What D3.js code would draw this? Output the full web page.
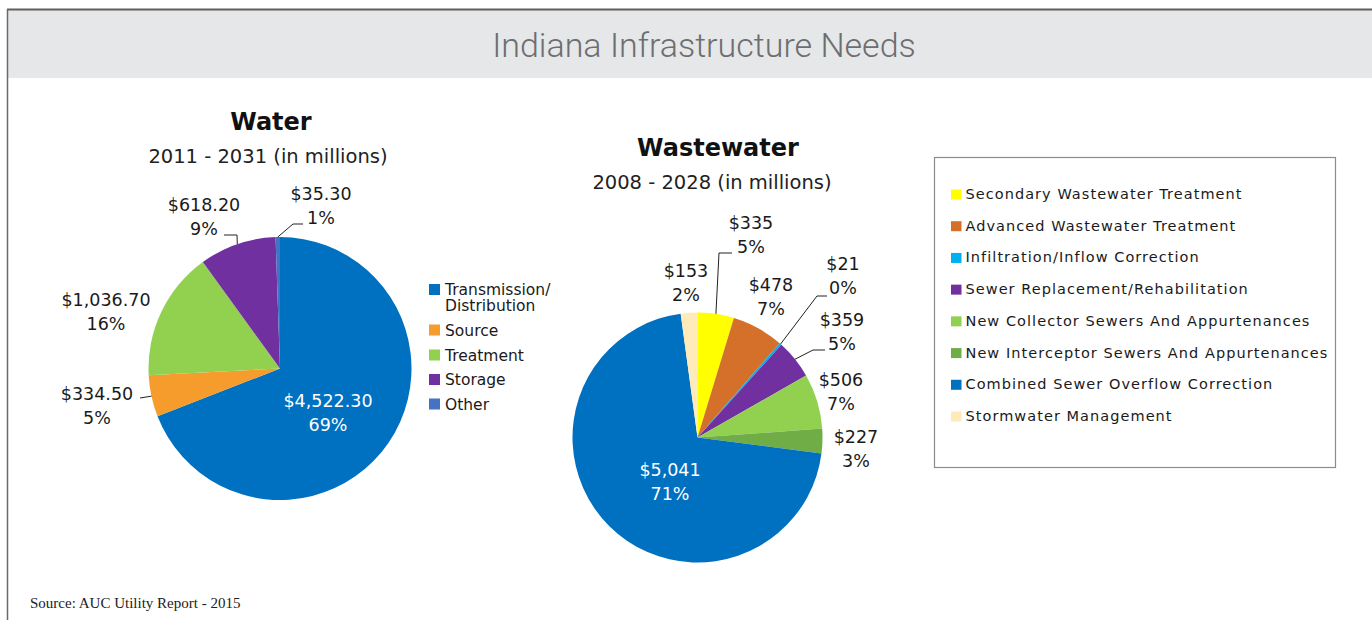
<!DOCTYPE html>
<html>
<head>
<meta charset="utf-8">
<script src="https://d3js.org/d3.v7.min.js"></script>
<style>
  html, body { margin: 0; padding: 0; background: #ffffff; }
  svg { display: block; }
</style>
</head>
<body>
<svg id="chart" width="1372" height="620"></svg>
<script>
// ---- Water needs, 2011 - 2031 (in millions) ----
const waterCategories = ["Transmission/Distribution", "Source", "Treatment", "Storage", "Other"];
const waterLegendLines = [["Transmission/", "Distribution"], ["Source"], ["Treatment"], ["Storage"], ["Other"]];
const waterValues = [4522.30, 334.50, 1036.70, 618.20, 35.30];
const waterColors = ["#0070C0", "#F59C2C", "#92D050", "#7030A0", "#4472C4"];

// ---- Wastewater needs, 2008 - 2028 (in millions) ----
const wasteCategories = [
  "Secondary Wastewater Treatment",
  "Advanced Wastewater Treatment",
  "Infiltration/Inflow Correction",
  "Sewer Replacement/Rehabilitation",
  "New Collector Sewers And Appurtenances",
  "New Interceptor Sewers And Appurtenances",
  "Combined Sewer Overflow Correction",
  "Stormwater Management"
];
const wasteValues = [335, 478, 21, 359, 506, 227, 5041, 153];
const wasteColors = ["#FFFF00", "#D4702A", "#00B0F0", "#7030A0", "#92D050", "#70AD47", "#0070C0", "#FFEABA"];

// Label placement (layout only): anchor of the two-line label and optional leader path
const waterLabelLayout = [
  { x: 328, y: 407, inside: true },
  { x: 97,  y: 400, leader: [[140, 398]] },
  { x: 106, y: 306 },
  { x: 204, y: 211, leader: [[237, 235], [224, 235]] },
  { x: 321, y: 200, leader: [[293, 224], [303, 224]] }
];
const wasteLabelLayout = [
  { x: 751, y: 229, leader: [[719, 253], [732, 253]] },
  { x: 771, y: 291 },
  { x: 843, y: 270, leader: [[817, 296], [827, 296]] },
  { x: 842, y: 326, leader: [[813, 350], [825, 350]] },
  { x: 841, y: 386 },
  { x: 856, y: 443 },
  { x: 670, y: 476, inside: true },
  { x: 686, y: 277 }
];

const svg = d3.select("#chart");
const FONT = "'DejaVu Sans', sans-serif";

// ---- frame and header band ----
svg.append("rect").attr("x", 8).attr("y", 10).attr("width", 1364).attr("height", 68).attr("fill", "#E6E7E8");
svg.append("line").attr("x1", 7).attr("x2", 1372).attr("y1", 9.5).attr("y2", 9.5)
  .attr("stroke", "#5f5f5f").attr("stroke-width", 2);
svg.append("line").attr("x1", 7.5).attr("x2", 7.5).attr("y1", 9).attr("y2", 620)
  .attr("stroke", "#6a6a6a").attr("stroke-width", 1.5);

svg.append("text")
  .attr("x", 704).attr("y", 57)
  .attr("text-anchor", "middle")
  .attr("font-family", "Roboto, sans-serif")
  .attr("font-weight", 300)
  .attr("font-size", 34)
  .attr("fill", "#6d6e71")
  .text("Indiana Infrastructure Needs");

svg.append("text")
  .attr("x", 30).attr("y", 608)
  .attr("font-family", "'Liberation Serif', serif")
  .attr("font-size", 15)
  .attr("fill", "#222")
  .text("Source: AUC Utility Report - 2015");

// ---- pie drawing helper ----
function drawPie(opts) {
  const g = svg.append("g").attr("transform", `translate(${opts.cx},${opts.cy})`);
  const total = d3.sum(opts.values);
  const pie = d3.pie().sort(null).value(d => d)(opts.values);
  const arc = d3.arc().innerRadius(0).outerRadius(opts.r);

  g.selectAll("path.slice")
    .data(pie)
    .join("path")
    .attr("class", "slice")
    .attr("d", arc)
    .attr("fill", (d, i) => opts.colors[i]);

  // leader lines start on the rim at each slice's middle angle
  const rim = d => {
    const a = (d.startAngle + d.endAngle) / 2;
    return [opts.cx + opts.r * Math.sin(a), opts.cy - opts.r * Math.cos(a)];
  };

  pie.forEach((d, i) => {
    const lay = opts.layout[i];
    if (lay.leader) {
      const pts = [rim(d)].concat(lay.leader);
      svg.append("path")
        .attr("d", d3.line()(pts))
        .attr("fill", "none")
        .attr("stroke", "#222")
        .attr("stroke-width", 1);
    }
    const color = lay.inside ? "#ffffff" : "#1a1a1a";
    const t = svg.append("text")
      .attr("text-anchor", "middle")
      .attr("font-family", FONT)
      .attr("font-size", 17.5)
      .attr("fill", color);
    t.append("tspan").attr("x", lay.x).attr("y", lay.y).text("$" + opts.fmt(d.data));
    t.append("tspan").attr("x", lay.x).attr("y", lay.y + 24)
      .text(Math.round(d.data / total * 100) + "%");
  });

  svg.append("text")
    .attr("x", opts.titleX).attr("y", opts.titleY)
    .attr("text-anchor", "middle")
    .attr("font-family", FONT)
    .attr("font-weight", "bold")
    .attr("font-size", 24)
    .attr("fill", "#111")
    .text(opts.title);
  svg.append("text")
    .attr("x", opts.subX).attr("y", opts.titleY + 33)
    .attr("text-anchor", "middle")
    .attr("font-family", FONT)
    .attr("font-size", 19.5)
    .attr("fill", "#222")
    .text(opts.subtitle);
}

drawPie({
  cx: 280, cy: 368.5, r: 131.5,
  values: waterValues, colors: waterColors, layout: waterLabelLayout,
  fmt: d3.format(",.2f"),
  title: "Water", subtitle: "2011 - 2031 (in millions)",
  titleX: 271, titleY: 130, subX: 268
});

drawPie({
  cx: 697.5, cy: 437.5, r: 125,
  values: wasteValues, colors: wasteColors, layout: wasteLabelLayout,
  fmt: d3.format(","),
  title: "Wastewater", subtitle: "2008 - 2028 (in millions)",
  titleX: 718, titleY: 156, subX: 712
});

// ---- water legend ----
const wl = svg.append("g");
// first entry wraps to two lines, so rows after it start lower
const waterRowBase = [295, 335.5, 360.5, 385, 409.5];
waterCategories.forEach((c, i) => {
  const y = waterRowBase[i];
  wl.append("rect").attr("x", 429).attr("y", y - 11).attr("width", 11).attr("height", 11)
    .attr("fill", waterColors[i]);
  const t = wl.append("text")
    .attr("font-family", FONT).attr("font-size", 15.5).attr("fill", "#1a1a1a");
  waterLegendLines[i].forEach((line, j) => {
    t.append("tspan").attr("x", 445).attr("y", y + j * 15.5).text(line);
  });
});

// ---- wastewater legend ----
svg.append("rect").attr("x", 934.5).attr("y", 157.5).attr("width", 401).attr("height", 310)
  .attr("fill", "#fff").attr("stroke", "#8c8c8c").attr("stroke-width", 1.2);
const lgY = d3.scalePoint().domain(d3.range(wasteCategories.length)).range([199, 421]);
wasteCategories.forEach((c, i) => {
  const y = lgY(i);
  svg.append("rect").attr("x", 951).attr("y", y - 9.5).attr("width", 10.5).attr("height", 10)
    .attr("fill", wasteColors[i]);
  svg.append("text")
    .attr("x", 965.5).attr("y", y)
    .attr("font-family", FONT).attr("font-size", 14.5)
    .attr("letter-spacing", 1.05)
    .attr("fill", "#1a1a1a")
    .text(c);
});
</script>
</body>
</html>
